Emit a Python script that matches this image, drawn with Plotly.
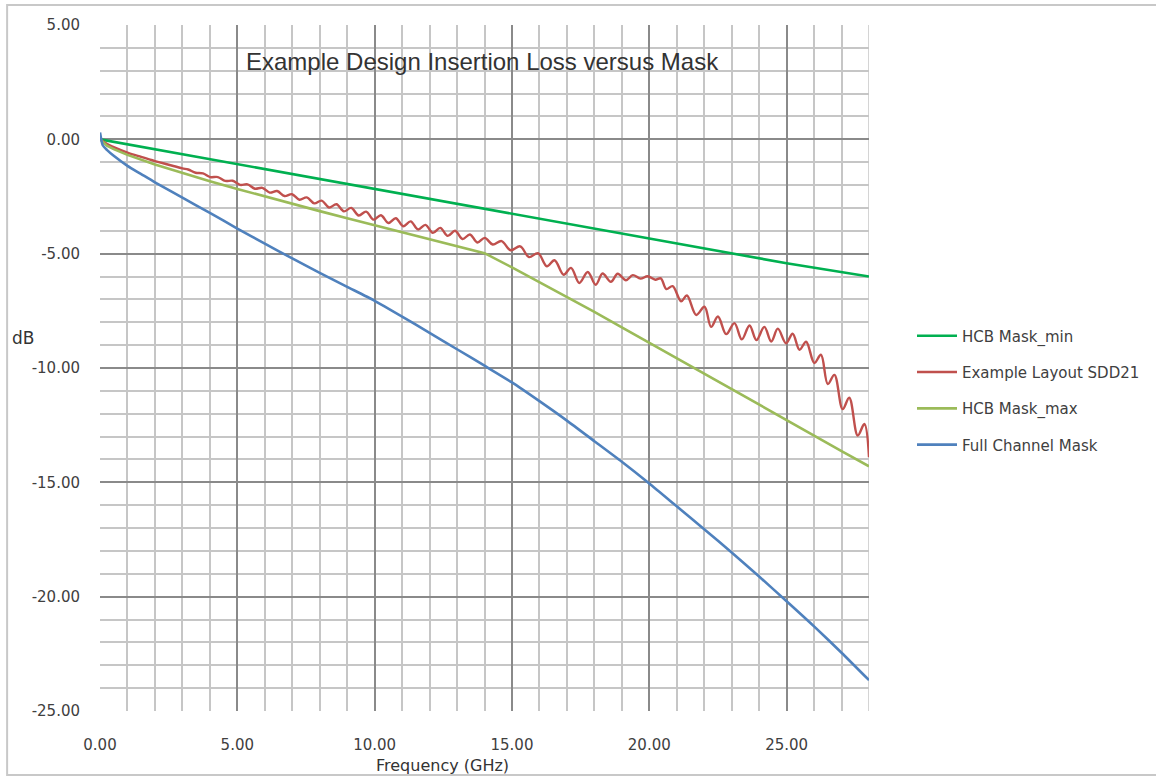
import plotly.graph_objects as go

# ---------------- data ----------------
freq_min = [0, 5, 10, 15, 20, 25, 28]
hcb_mask_min = [0.0, -1.08, -2.17, -3.25, -4.32, -5.42, -6.0]

freq_max = [0, 0.25, 0.5, 1, 2, 3, 4, 5, 6, 7, 8, 9, 10, 11, 12, 13, 14,
            15, 16, 17, 18, 19, 20, 21, 22, 23, 24, 25, 26, 27, 28]
hcb_mask_max = [0.0, -0.28, -0.43, -0.68, -1.10, -1.48, -1.83, -2.17, -2.50, -2.82,
                -3.14, -3.45, -3.76, -4.06, -4.36, -4.66, -4.98,
                -5.60, -6.24, -6.89, -7.55, -8.22, -8.90, -9.57, -10.25, -10.93,
                -11.61, -12.29, -12.96, -13.63, -14.30]

freq_full = [0, 0.1, 0.25, 0.5, 1, 1.5, 2, 3, 4, 5, 6, 7, 8, 9, 10, 11, 12, 13, 14,
             15, 16, 17, 18, 19, 20, 21, 22, 23, 24, 25, 26, 27, 28]
full_channel_mask = [0.3, -0.26, -0.46, -0.72, -1.16, -1.52, -1.88, -2.55, -3.22, -3.90,
                     -4.56, -5.21, -5.84, -6.45, -7.06, -7.75, -8.46, -9.18, -9.90,
                     -10.63, -11.45, -12.30, -13.20, -14.10, -15.05, -16.05, -17.05,
                     -18.07, -19.12, -20.20, -21.30, -22.45, -23.65]

freq_sdd21 = [0, 0.25, 0.5, 1.0, 1.5, 2.0, 2.5, 3.0,
              3.21, 3.48, 3.75, 4.02, 4.29, 4.56, 4.83, 5.10, 5.37, 5.64, 5.91, 6.18,
              6.45, 6.72, 6.99, 7.26, 7.53, 7.80, 8.07, 8.34, 8.61, 8.88, 9.15, 9.42,
              9.69, 9.96, 10.23, 10.50, 10.77, 11.04, 11.31, 11.58, 11.85, 12.12,
              12.39, 12.66, 12.93, 13.20, 13.47, 13.74, 14.01,
              14.30, 14.62, 14.95, 15.30, 15.62, 15.95, 16.27, 16.55, 16.88, 17.15,
              17.45, 17.76, 18.05, 18.30, 18.60, 18.85, 19.15, 19.40, 19.68, 19.94,
              20.22, 20.42, 20.62, 20.85, 21.16, 21.37, 21.71, 22.01, 22.25, 22.50,
              22.80, 23.10, 23.37, 23.65, 23.90, 24.19, 24.44, 24.68, 24.98, 25.22,
              25.47, 25.71, 26.01, 26.25, 26.50, 26.74, 27.04, 27.28, 27.59, 27.83, 28.0]
sdd21 = [0.0, -0.20, -0.34, -0.58, -0.77, -0.95, -1.11, -1.27,
         -1.32, -1.46, -1.49, -1.65, -1.65, -1.82, -1.81, -1.99, -1.97, -2.16, -2.12, -2.33,
         -2.26, -2.48, -2.40, -2.64, -2.54, -2.80, -2.68, -2.98, -2.84, -3.15, -3.00, -3.33,
         -3.16, -3.51, -3.32, -3.66, -3.45, -3.80, -3.59, -3.94, -3.74, -4.09,
         -3.87, -4.22, -4.00, -4.36, -4.16, -4.51, -4.31,
         -4.60, -4.45, -4.85, -4.68, -5.15, -4.98, -5.55, -5.29, -5.92, -5.62,
         -6.28, -5.80, -6.36, -5.87, -6.23, -5.88, -6.16, -5.94, -6.09, -5.99,
         -6.14, -6.08, -6.55, -6.42, -7.08, -6.83, -7.68, -7.32, -8.20, -7.75,
         -8.52, -8.04, -8.75, -8.14, -8.78, -8.20, -8.84, -8.28, -8.92, -8.50,
         -9.20, -8.85, -9.78, -9.42, -10.70, -10.30, -11.80, -11.30, -12.95, -12.45, -13.90]

x_tickvals = [0, 5, 10, 15, 20, 25]
x_ticktext = ["0.00", "5.00", "10.00", "15.00", "20.00", "25.00"]
y_tickvals = [5, 0, -5, -10, -15, -20, -25]
y_ticktext = ["5.00", "0.00", "-5.00", "-10.00", "-15.00", "-20.00", "-25.00"]

# ---------------- figure ----------------
FONT = "DejaVu Sans"
TXT = "#404040"

fig = go.Figure()
fig.add_trace(go.Scatter(x=freq_min, y=hcb_mask_min, mode="lines", name="HCB Mask_min",
                         line=dict(color="#00B050", width=2.6), legendgroup="a"))
fig.add_trace(go.Scatter(x=freq_sdd21, y=sdd21, mode="lines", name="Example Layout SDD21",
                         line=dict(color="#C0504D", width=2.4, shape="spline", smoothing=1.0),
                         legendgroup="b"))
fig.add_trace(go.Scatter(x=freq_max, y=hcb_mask_max, mode="lines", name="HCB Mask_max",
                         line=dict(color="#9BBB59", width=2.6), legendgroup="c"))
fig.add_trace(go.Scatter(x=freq_full, y=full_channel_mask, mode="lines", name="Full Channel Mask",
                         line=dict(color="#4F81BD", width=2.6, shape="spline", smoothing=0.6),
                         legendgroup="d"))

L, R, T, B = 100, 286, 25, 65
W, H = 1156, 776
pw, ph = W - L - R, H - T - B


def px_x(p):
    return (p - L) / pw


def px_y(p):
    return (H - B - p) / ph


fig.update_layout(
    width=W, height=H,
    margin=dict(l=L, r=R, t=T, b=B),
    paper_bgcolor="white", plot_bgcolor="white",
    font=dict(family=FONT, color=TXT, size=15),
    showlegend=True,
    legend=dict(x=px_x(912), y=px_y(319.5), xanchor="left", yanchor="top",
                font=dict(family=FONT, size=15, color=TXT),
                tracegroupgap=13.8, itemwidth=40, bgcolor="rgba(0,0,0,0)"),
    xaxis=dict(range=[0, 28], tickmode="array", tickvals=x_tickvals, ticktext=x_ticktext,
               showgrid=True, gridcolor="#8a8a8a", gridwidth=1.5, zeroline=False,
               showline=False, ticks="", ticklabelstandoff=23,
               tickfont=dict(family=FONT, size=15, color=TXT),
               minor=dict(tickmode="linear", tick0=0, dtick=1, showgrid=True,
                          gridcolor="#c6c6c6", gridwidth=1.5)),
    yaxis=dict(range=[-25, 5], tickmode="array", tickvals=y_tickvals, ticktext=y_ticktext,
               showgrid=True, gridcolor="#8a8a8a", gridwidth=1.5, zeroline=False,
               showline=False, ticks="", ticklabelstandoff=19,
               tickfont=dict(family=FONT, size=15, color=TXT),
               minor=dict(tickmode="linear", tick0=0, dtick=1, showgrid=True,
                          gridcolor="#c6c6c6", gridwidth=1.5)),
    annotations=[
        dict(text="Example Design Insertion Loss versus Mask", xref="paper", yref="paper",
             x=px_x(483), y=px_y(61), xanchor="center", yanchor="middle", showarrow=False,
             font=dict(family="Liberation Sans", size=24, color="#333333")),
        dict(text="dB", xref="paper", yref="paper", x=px_x(23), y=px_y(338),
             xanchor="center", yanchor="middle", showarrow=False,
             font=dict(family=FONT, size=17, color="#333333")),
        dict(text="Frequency (GHz)", xref="paper", yref="paper", x=px_x(443), y=px_y(765),
             xanchor="center", yanchor="middle", showarrow=False,
             font=dict(family=FONT, size=16, color="#333333")),
    ],
    shapes=[
        dict(type="rect", xref="paper", yref="paper", x0=px_x(7), x1=px_x(1170),
             y0=px_y(775), y1=px_y(5), line=dict(color="#c8c8c8", width=2), layer="below"),
        dict(type="line", xref="x", yref="paper", x0=28, x1=28, y0=0, y1=1,
             line=dict(color="#c6c6c6", width=1.5), layer="below"),
    ],
)

fig.write_html("out.html")
